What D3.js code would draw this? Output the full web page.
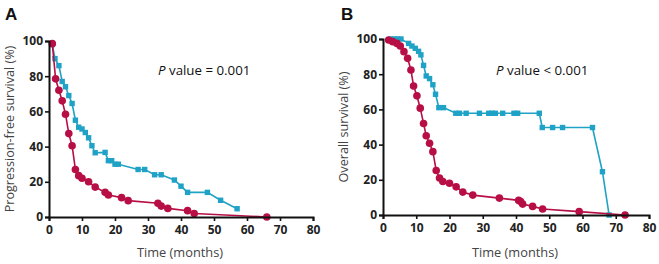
<!DOCTYPE html>
<html>
<head>
<meta charset="utf-8">
<script src="https://cdn.jsdelivr.net/npm/d3@7"></script>
<style>
  body { margin: 0; background: #fff; }
  svg { display: block; }
</style>
</head>
<body>
<div class="chart"></div>
<script>
const xTicks = [0, 10, 20, 30, 40, 50, 60, 70, 80];
const yTicks = [0, 20, 40, 60, 80, 100];

// panel A: progression-free survival, [month, percent]
const pfsBlue = [[1, 98], [1.8, 90], [3, 86], [4, 77], [5, 74], [6, 69], [7, 64.5], [8, 55], [9, 51], [10, 50],
  [11, 48], [12, 45], [13, 40.5], [14, 36.5], [17, 36.7], [18, 32], [19, 32], [20, 30], [21, 30], [27, 27],
  [29, 27], [32, 24], [34, 24], [38, 21], [40, 17.5], [42, 14], [48, 14], [52, 9.5], [57, 4.7]];
const pfsRed = [[1, 98.5], [2, 78.5], [3, 72], [4, 66], [5, 58.4], [6, 47.4], [7, 40.5], [8, 27], [9, 23.5],
  [10, 22], [12, 20], [14, 17], [17, 14], [18, 12.5], [22, 11], [24, 9.3], [33, 7.8], [34, 6.2], [36, 4.9],
  [42, 3.6], [44, 2], [66, 0]];

// panel B: overall survival
const osBlue = [[2.4, 100], [3.4, 100], [4.4, 100], [5.4, 100], [7.7, 97.5], [8.7, 96], [9.7, 94.7], [10.7, 93],
  [11.4, 91], [12.2, 85], [13, 79], [14, 77.5], [15, 74], [15.8, 68.6], [16.8, 61], [18.2, 61], [21.9, 57.8],
  [23, 57.8], [25, 57.8], [29, 57.8], [31.8, 57.8], [32.8, 57.8], [33.8, 57.8], [36, 57.8], [39.4, 57.8],
  [40.5, 57.8], [47, 57.8], [47.9, 49.7], [51, 49.7], [54, 49.7], [63, 49.7], [66, 24.6], [68, 0]];
const osRed = [[1.7, 99.4], [2.9, 98.5], [4.2, 97.5], [5.2, 96], [6.3, 92.8], [7.4, 89], [8.4, 82.4], [9.2, 73.3],
  [10.2, 67.7], [11.2, 60.7], [12.2, 52], [13, 45], [14, 40.8], [15, 36], [16, 25.3], [17, 21], [18, 19],
  [20, 18], [22, 16], [24, 13], [27, 11.3], [35, 9.6], [40.8, 8.3], [41.4, 7.6], [42, 6.2], [45, 4.9],
  [48, 3.4], [59, 1.9], [72.8, 0]];

const blue = "#1fa2c6";
const red = "#b70f45";

const svg = d3.select(".chart").append("svg").attr("width", 659).attr("height", 264);

const panels = [
  { letter: "A", left: 49, right: 313, top: 41, bottom: 217, ylabel: "Progression-free survival (%)",
    p: "value = 0.001", px: 158, blueData: pfsBlue, redData: pfsRed },
  { letter: "B", left: 383, right: 649, top: 39, bottom: 215, ylabel: "Overall survival (%)",
    p: "value < 0.001", px: 496, blueData: osBlue, redData: osRed },
];

panels.forEach(function (pn, i) {
  const xScale = d3.scaleLinear().domain([0, 80]).range([pn.left, pn.right]);
  const yScale = d3.scaleLinear().domain([0, 100]).range([pn.bottom, pn.top]);
  const g = svg.append("g");

  const line = d3.line().x((d) => xScale(d[0])).y((d) => yScale(d[1]));

  g.append("path").datum(pn.blueData).attr("d", line)
    .attr("fill", "none").attr("stroke", blue).attr("stroke-width", 1.6);
  g.selectAll(".sq").data(pn.blueData).enter().append("rect")
    .attr("x", (d) => xScale(d[0]) - 2.7).attr("y", (d) => yScale(d[1]) - 2.7)
    .attr("width", 5.4).attr("height", 5.4).attr("fill", blue);

  g.append("path").datum(pn.redData).attr("d", line)
    .attr("fill", "none").attr("stroke", red).attr("stroke-width", 1.6);
  g.selectAll(".dot").data(pn.redData).enter().append("circle")
    .attr("cx", (d) => xScale(d[0])).attr("cy", (d) => yScale(d[1]))
    .attr("r", 3.8).attr("fill", red);

  const xAxis = g.append("g").attr("transform", "translate(0," + pn.bottom + ")")
    .call(d3.axisBottom(xScale).tickValues(xTicks).tickSize(4).tickPadding(4));
  const yAxis = g.append("g").attr("transform", "translate(" + pn.left + ",0)")
    .call(d3.axisLeft(yScale).tickValues(yTicks).tickSize(4).tickPadding(2));
  [xAxis, yAxis].forEach(function (ax) {
    ax.select(".domain").attr("stroke", "#111").attr("stroke-width", 2);
    ax.selectAll(".tick line").attr("stroke", "#111").attr("stroke-width", 1.6);
    ax.selectAll(".tick text").attr("fill", "#222")
      .style("font-family", "'Open Sans', sans-serif").style("font-weight", "bold").style("font-size", "12px");
  });

  svg.append("text").attr("x", pn.left - 44 + i * 2).attr("y", 20)
    .text(pn.letter).style("font-family", "'Liberation Sans', Arial, sans-serif")
    .style("font-weight", "bold").style("font-size", "17px").attr("fill", "#111");

  svg.append("text").attr("x", (pn.left + pn.right) / 2 - 1).attr("y", 257)
    .attr("text-anchor", "middle").text("Time (months)")
    .style("font-family", "'Open Sans', sans-serif").style("font-size", "12.8px").attr("fill", "#444");

  svg.append("text")
    .attr("transform", "translate(" + (pn.left - 35) + "," + (pn.top + pn.bottom) / 2 + ") rotate(-90)")
    .attr("text-anchor", "middle").text(pn.ylabel)
    .style("font-family", "'Open Sans', sans-serif").style("font-size", "12.6px").attr("fill", "#444");

  const pt = svg.append("text").attr("x", pn.px).attr("y", 75)
    .style("font-family", "'Open Sans', sans-serif").style("font-size", "13.3px").attr("fill", "#111");
  pt.append("tspan").style("font-style", "italic").text("P");
  pt.append("tspan").text(" " + pn.p);
});
</script>
</body>
</html>
